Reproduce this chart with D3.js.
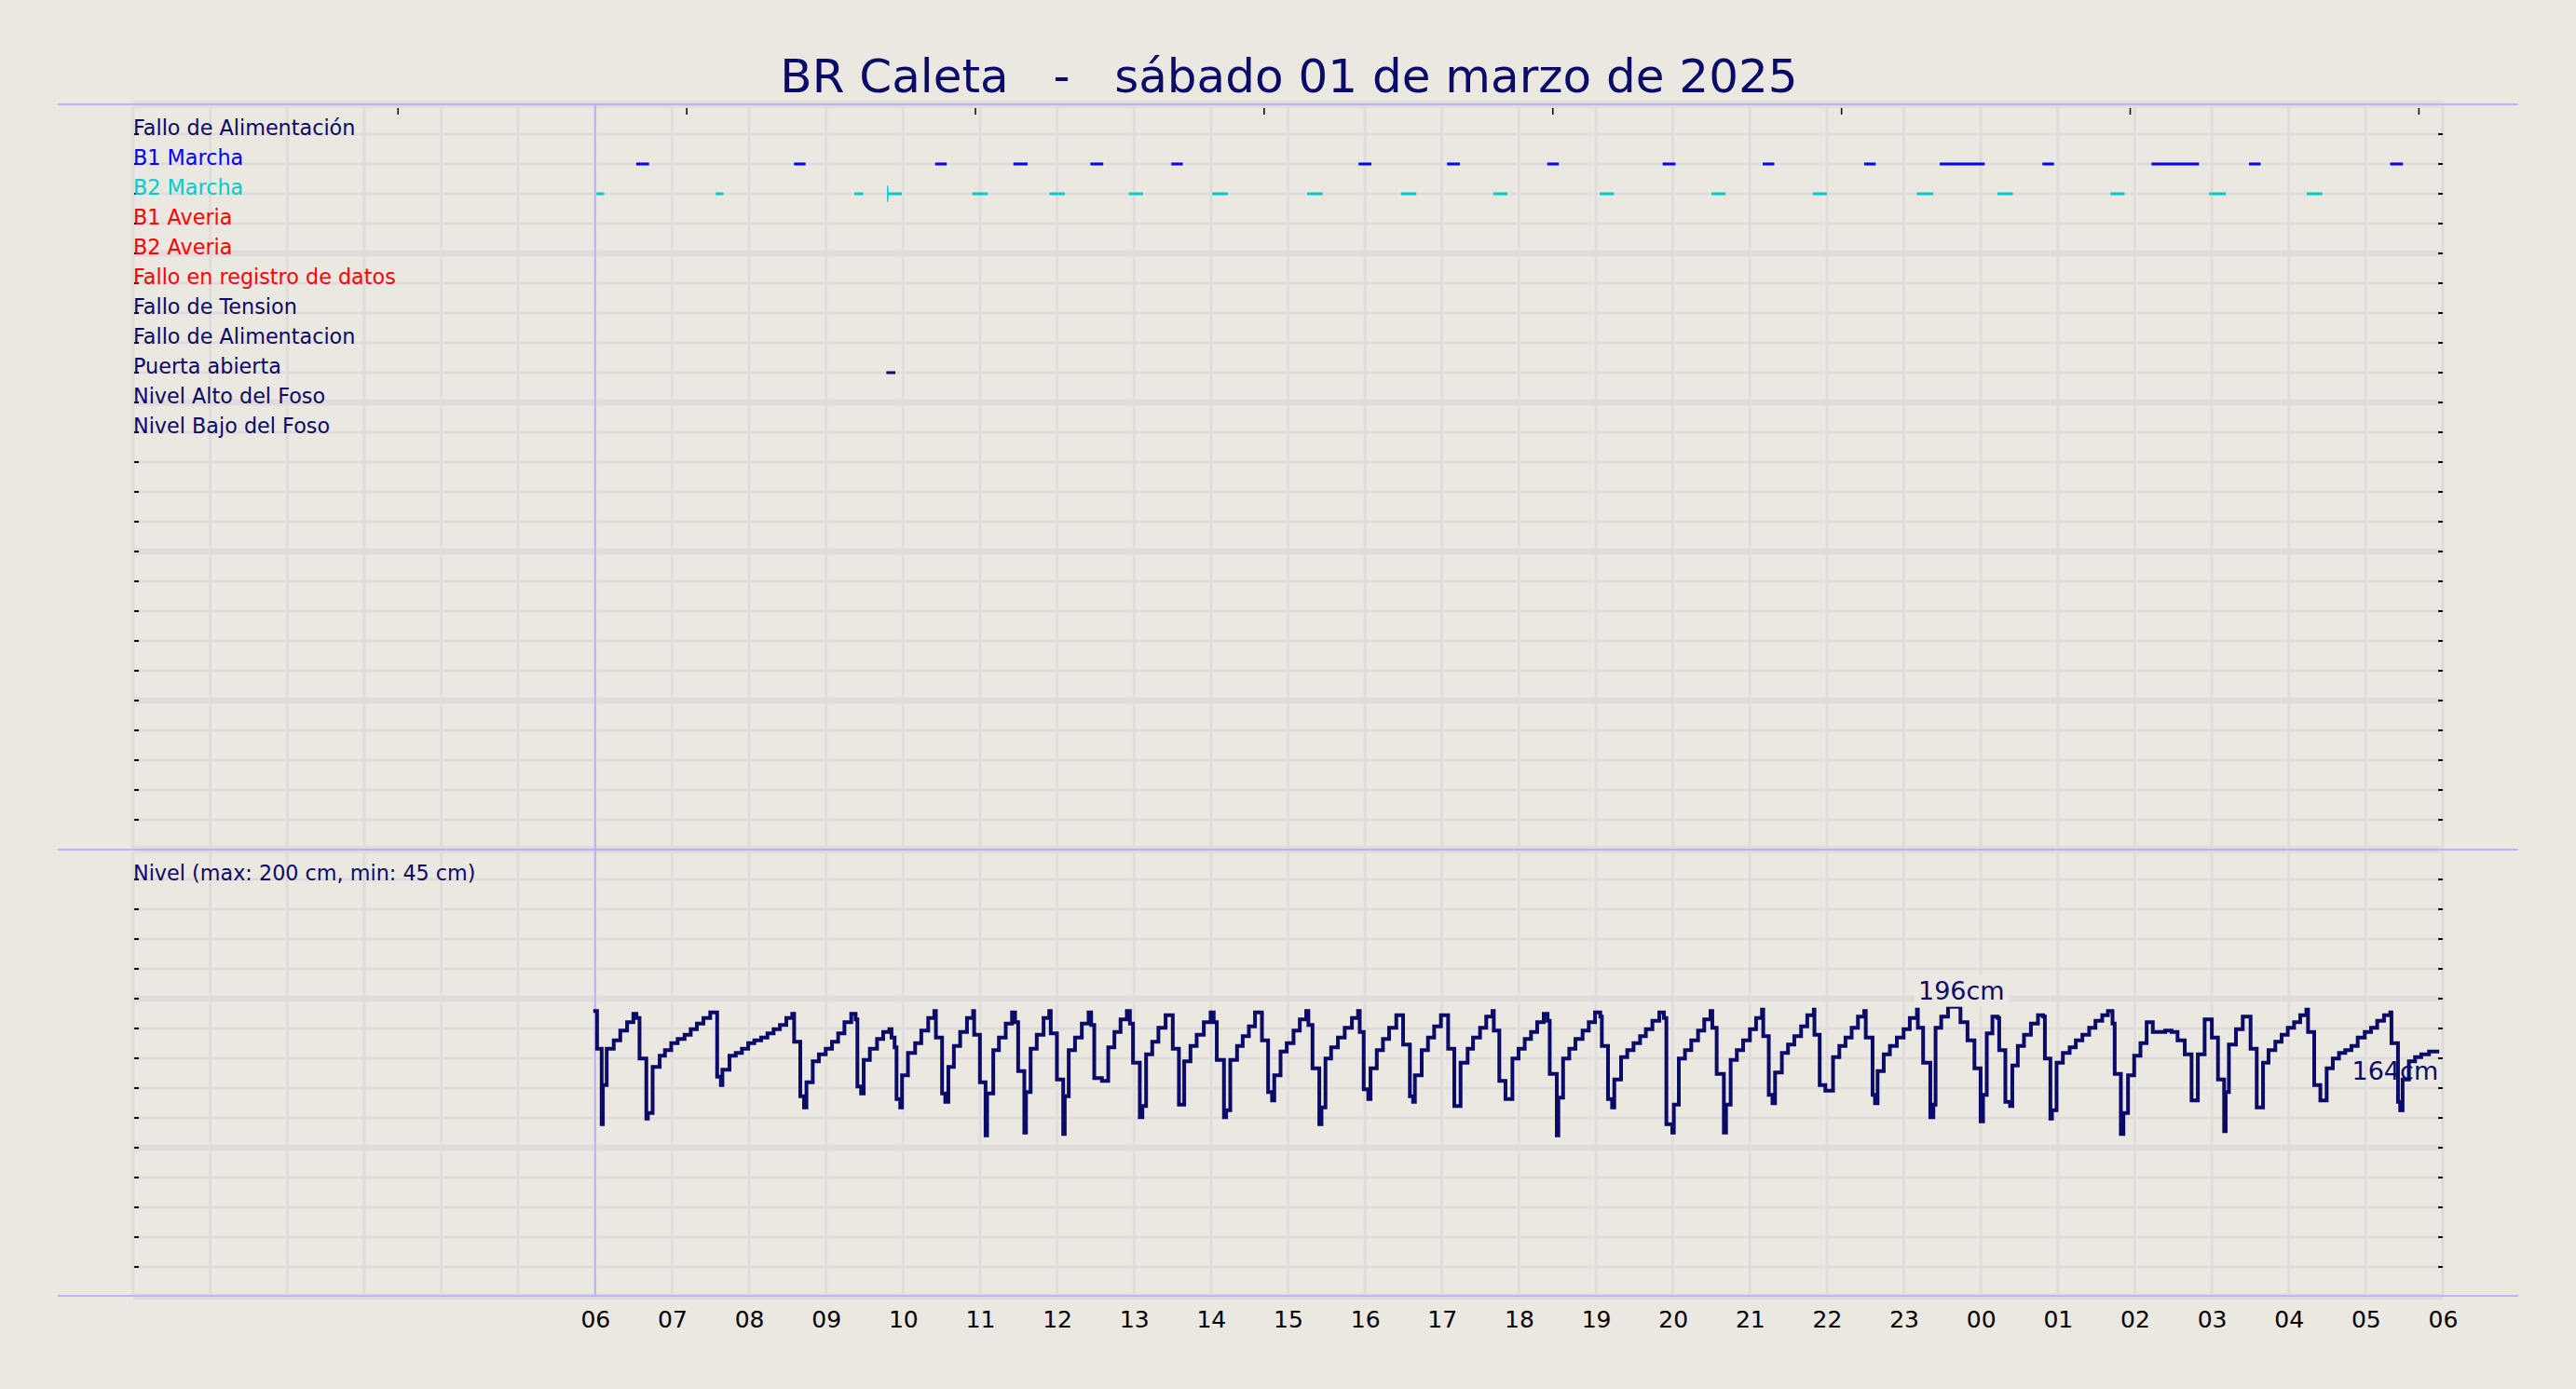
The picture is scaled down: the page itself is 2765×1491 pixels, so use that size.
<!DOCTYPE html>
<html><head><meta charset="utf-8">
<script src="https://cdn.jsdelivr.net/npm/d3@7"></script>
<style>
html,body{margin:0;padding:0;background:#ebe7e1;}
svg{display:block;}
text{font-family:"DejaVu Sans",sans-serif;}
</style></head><body>
<svg id="chart" width="2765" height="1491"></svg>
<script>
// ---------------- DATA ----------------
const titleText = "BR Caleta   -   sábado 01 de marzo de 2025";
const rowLabels = ["Fallo de Alimentación","B1 Marcha","B2 Marcha","B1 Averia","B2 Averia",
  "Fallo en registro de datos","Fallo de Tension","Fallo de Alimentacion","Puerta abierta",
  "Nivel Alto del Foso","Nivel Bajo del Foso"];
const rowColors = ["#0a0a68","#0000ff","#00cccc","#ff0000","#ff0000","#ff0000",
  "#0a0a68","#0a0a68","#0a0a68","#0a0a68","#0a0a68"];
const levelLabel = "Nivel (max: 200 cm, min: 45 cm)";

const b1Start = ["06:32","08:35","10:25","11:26","12:26","13:29","15:55","17:04","18:22","19:52","21:10","22:29","23:28","00:48","02:13","03:29","05:19"];
const b1End   = ["06:42","08:44","10:34","11:37","12:36","13:38","16:05","17:14","18:31","20:02","21:19","22:38","00:03","00:57","02:50","03:38","05:29"];
const b2Start = ["06:01","07:34","09:22","09:48","10:54","11:54","12:56","14:01","15:15","16:28","17:40","19:03","20:30","21:49","23:10","00:13","01:41","02:58","04:14"];
const b2End   = ["06:07","07:40","09:29","09:59","11:06","12:06","13:07","14:13","15:27","16:40","17:51","19:14","20:41","22:00","23:23","00:25","01:52","03:11","04:26"];
const b2Marks = ["09:48"];
const doorStart = ["09:47"];
const doorEnd   = ["09:54"];

const xTickLabels = ["06","07","08","09","10","11","12","13","14","15","16","17","18","19","20","21","22","23","00","01","02","03","04","05","06"];
const topTickHours = [3.44, 7.19, 10.94, 14.69, 18.44, 22.19, 25.94, 29.69];

// level: minutes after 06:00, value in cm (step after)
const levelMinutes = [0.0,1.5,5.1,6.0,9.0,14.5,19.6,24.9,29.8,32.2,34.6,39.9,41.1,44.8,50.3,54.4,59.3,64.3,69.7,74.5,79.3,84.4,89.7,95.1,98.0,99.2,104.7,109.6,114.4,119.3,124.1,129.4,134.3,139.1,144.0,149.0,153.6,155.1,159.9,162.8,164.7,169.6,174.4,179.7,184.6,189.4,194.3,199.6,203.0,204.4,207.3,209.3,214.1,219.7,224.5,229.3,231.0,233.4,234.9,237.8,239.2,243.8,249.4,254.2,259.6,264.4,265.6,270.4,272.9,275.3,279.6,284.5,289.8,294.6,295.4,299.9,304.3,305.5,310.3,314.7,320.0,324.9,327.3,329.7,334.5,335.8,339.4,344.2,349.5,353.9,355.1,359.9,364.8,366.0,369.1,374.0,379.3,384.6,386.6,389.0,395.0,399.9,404.7,409.5,414.4,416.8,419.2,424.5,426.5,429.4,434.2,439.0,444.6,450.2,455.0,459.1,464.0,468.8,474.4,479.7,482.1,484.5,490.1,491.8,495.0,500.3,504.7,509.5,514.3,519.7,524.5,527.6,529.3,534.2,539.0,544.3,549.2,554.2,555.9,559.1,564.4,566.1,569.2,573.6,578.9,584.2,589.8,594.6,595.9,599.0,602.6,604.3,609.2,614.0,618.8,624.4,629.7,635.0,637.5,638.9,644.2,649.1,653.9,659.2,664.8,669.6,674.5,680.0,684.2,689.7,694.5,699.4,700.4,704.7,709.5,714.9,719.7,724.5,729.4,734.2,739.3,742.3,744.0,749.5,750.7,754.4,759.2,764.0,769.6,774.4,779.3,783.4,784.6,789.4,792.6,794.3,799.6,804.4,809.3,814.4,818.9,824.0,829.4,833.0,834.9,839.5,840.7,844.6,849.4,854.3,859.6,864.4,869.3,870.7,874.1,879.7,881.4,885.0,889.8,894.7,900.0,904.8,909.4,910.4,914.7,917.6,919.6,924.9,929.7,934.6,939.9,944.7,949.8,950.3,954.4,958.8,964.8,969.7,974.5,979.3,984.2,989.1,990.3,995.6,997.5,999.5,1004.3,1009.1,1014.5,1019.8,1024.6,1030.2,1030.9,1035.0,1040.6,1043.0,1044.7,1049.1,1054.4,1064.1,1069.6,1075.0,1079.8,1081.7,1084.6,1089.0,1093.1,1094.3,1099.1,1102.8,1104.5,1108.8,1113.6,1119.0,1124.5,1128.6,1129.9,1134.2,1135.4,1139.0,1143.9,1149.2,1154.0,1159.1,1164.4,1169.3,1174.6,1179.0,1182.6,1184.3,1189.1,1191.1,1194.7,1199.5,1204.4,1209.2,1214.0,1223.7,1228.6,1233.3,1238.9,1244.2,1249.1,1254.4,1260.0,1264.8,1269.6,1270.8,1273.3,1278.8,1284.1,1290.2,1295.0,1299.9,1304.2,1309.5,1314.4,1319.2,1324.1,1328.9,1333.7,1335.0,1339.8,1344.6,1349.5,1354.3,1359.1,1364.0,1368.8,1373.7,1379.2,1384.1,1388.9,1394.2,1399.1,1400.0,1405.1,1406.8,1408.7,1413.6,1418.4,1423.2,1429.3,1435.8];
const levelCm = [193,166,112,140,166,172,179,185,191,188,159,116,120,153,161,165,170,173,176,180,184,188,192,146,140,151,161,163,166,170,172,174,177,180,183,188,191,171,132,124,142,157,162,166,171,177,185,191,187,139,134,158,166,173,178,180,174,167,130,124,147,163,170,179,188,193,174,134,128,153,168,178,188,193,176,142,104,134,165,174,184,192,185,150,106,135,166,176,188,193,177,144,105,132,165,174,184,192,183,145,143,167,178,187,193,184,156,117,125,162,171,181,190,166,126,157,168,176,185,192,185,158,117,122,158,168,175,182,192,172,135,129,147,164,170,179,187,193,183,152,112,124,159,167,174,181,188,193,178,137,130,152,165,173,181,190,169,132,128,147,165,174,182,190,166,125,156,166,174,181,189,193,179,143,130,159,166,173,178,185,191,186,148,104,131,159,166,173,179,185,192,189,168,130,124,144,160,165,170,175,180,186,192,188,112,106,126,159,165,172,179,187,193,181,148,106,126,158,165,172,180,188,194,175,133,127,149,163,169,175,182,190,194,176,140,136,160,168,174,181,189,193,174,133,127,150,162,168,174,180,188,194,181,156,117,126,181,189,196,185,172,152,114,133,177,189,188,165,128,125,154,168,176,184,190,189,159,116,122,156,163,167,172,176,181,186,190,193,184,148,105,120,147,161,170,185,178,179,178,172,162,129,162,187,174,144,107,135,169,180,189,166,124,156,165,171,176,181,185,190,194,178,140,129,152,159,163,165,168,174,178,181,186,190,192,170,128,122,144,157,160,162,164,164];
const maxLabel = "196cm";
const lastLabel = "164cm";

// ---------------- LAYOUT ----------------
const W = 2765, H = 1491;
const plotL = 143, plotR = 2622, plotT = 112, rowH = 32;
const topRows = 25, botRows = 15;
const midY = plotT + topRows * rowH;      // 912
const plotB = midY + botRows * rowH;      // 1392
const sepL = 62, sepR = 2703;
const bg = "#ebe7e1", gridC = "#e1dcdb", sepC = "#b4b4ff", navy = "#0a0a68";
const labelSize = 22.3;

const day0 = new Date(2025, 2, 1, 0, 0);
const hoursToDate = h => new Date(day0.getTime() + h * 3600000);
const x = d3.scaleTime().domain([hoursToDate(0), hoursToDate(30)]).range([plotL, plotR]);
const parseClock = s => { const [h, m] = s.split(":").map(Number); return hoursToDate((h < 6 ? h + 24 : h) + m / 60); };
const levelDate = m => hoursToDate(6 + m / 60);

const yRow = d3.scaleLinear().domain([0, topRows]).range([plotT, midY]);
const yRowB = d3.scaleLinear().domain([0, botRows]).range([midY, plotB]);
const yLevel = d3.scaleLinear().domain([0, 200]).range([1374.7, 1074.7]);

const svg = d3.select("#chart");
svg.append("rect").attr("width", W).attr("height", H).attr("fill", bg);

// grid
const grid = svg.append("g");
d3.range(0, 31).forEach(h => {
  grid.append("line").attr("x1", x(hoursToDate(h))).attr("x2", x(hoursToDate(h)))
    .attr("y1", plotT).attr("y2", plotB).attr("stroke", gridC).attr("stroke-width", 3);
});
d3.range(0, topRows + 1).forEach(k => {
  grid.append("line").attr("x1", plotL).attr("x2", plotR).attr("y1", yRow(k)).attr("y2", yRow(k))
    .attr("stroke", gridC).attr("stroke-width", k % 5 === 0 ? 7 : 3);
});
d3.range(0, botRows + 1).forEach(k => {
  grid.append("line").attr("x1", plotL).attr("x2", plotR).attr("y1", yRowB(k)).attr("y2", yRowB(k))
    .attr("stroke", gridC).attr("stroke-width", k % 5 === 0 ? 7 : 3);
});

// separators
[plotT, midY, plotB - 1].forEach(y => {
  svg.append("line").attr("x1", sepL).attr("x2", sepR).attr("y1", y).attr("y2", y)
    .attr("stroke", sepC).attr("stroke-width", 2);
});
svg.append("line").attr("x1", x(hoursToDate(6))).attr("x2", x(hoursToDate(6)))
  .attr("y1", plotT).attr("y2", plotB - 1).attr("stroke", sepC).attr("stroke-width", 2);

// ticks left/right
const tickG = svg.append("g").attr("stroke", "#000").attr("stroke-width", 2);
const tickYs = d3.range(1, topRows).map(k => yRow(k)).concat(d3.range(1, botRows).map(k => yRowB(k)));
tickYs.forEach(y => {
  tickG.append("line").attr("x1", plotL + 1).attr("x2", plotL + 6).attr("y1", y).attr("y2", y);
  tickG.append("line").attr("x1", plotR - 5).attr("x2", plotR).attr("y1", y).attr("y2", y);
});
topTickHours.forEach(h => {
  svg.append("line").attr("x1", x(hoursToDate(h))).attr("x2", x(hoursToDate(h)))
    .attr("y1", plotT + 4).attr("y2", plotT + 11).attr("stroke", "#000").attr("stroke-width", 1.5);
});

// event bars
function bars(starts, ends, row, color) {
  svg.append("g").selectAll("line").data(starts).join("line")
    .attr("x1", (d) => x(parseClock(d)))
    .attr("x2", (d, i) => x(parseClock(ends[i])))
    .attr("y1", yRow(row + 1)).attr("y2", yRow(row + 1))
    .attr("stroke", color).attr("stroke-width", 3);
}
bars(b1Start, b1End, 1, rowColors[1]);
bars(b2Start, b2End, 2, rowColors[2]);
bars(doorStart, doorEnd, 8, navy);
svg.append("g").selectAll("line").data(b2Marks).join("line")
  .attr("x1", d => x(parseClock(d))).attr("x2", d => x(parseClock(d)))
  .attr("y1", yRow(3) - 8.5).attr("y2", yRow(3) + 8.5)
  .attr("stroke", rowColors[2]).attr("stroke-width", 1.5);

// row labels
svg.append("g").selectAll("text").data(rowLabels).join("text")
  .attr("x", plotL).attr("y", (d, i) => yRow(i + 1) + 1)
  .attr("font-size", labelSize).attr("fill", (d, i) => rowColors[i]).text(d => d);
svg.append("text").attr("x", plotL).attr("y", yRowB(1) + 1).attr("font-size", labelSize)
  .attr("fill", navy).text(levelLabel);

// level line
const levelData = levelMinutes.map((m, i) => ({ t: levelDate(m), v: levelCm[i] }));
svg.append("path").datum(levelData)
  .attr("d", d3.line().x(d => x(d.t)).y(d => yLevel(d.v)).curve(d3.curveStepAfter))
  .attr("fill", "none").attr("stroke", navy).attr("stroke-width", 4)
  .attr("stroke-linecap", "square").attr("stroke-linejoin", "miter");

// max label with box
const maxIdx = d3.maxIndex(levelData, d => d.v);
const maxX = x(levelData[maxIdx + 1].t) + 1;
const maxT = svg.append("text").attr("x", maxX).attr("y", yLevel(levelData[maxIdx].v) - 8)
  .attr("text-anchor", "middle").attr("font-size", 27).attr("fill", navy).text(maxLabel);
const bb = maxT.node().getBBox();
svg.insert("rect", function () { return maxT.node(); })
  .attr("x", bb.x - 4).attr("y", bb.y - 2).attr("width", bb.width + 8).attr("height", bb.height + 4)
  .attr("fill", bg);
const last = levelData[levelData.length - 1];
svg.append("text").attr("x", x(last.t) + 1).attr("y", yLevel(last.v) + 30)
  .attr("text-anchor", "end").attr("font-size", 27).attr("fill", navy).text(lastLabel);

// x axis
const xTicks = xTickLabels.map((d, i) => hoursToDate(6 + i));
const axis = svg.append("g").attr("transform", `translate(0,${plotB - 1})`)
  .call(d3.axisBottom(x).tickValues(xTicks).tickFormat((d, i) => xTickLabels[i]).tickSize(0).tickPadding(16));
axis.select(".domain").remove();
axis.selectAll("text").attr("font-size", 25).attr("fill", "#000").attr("font-family", "DejaVu Sans");

// title
svg.append("text").attr("x", W / 2 + 1).attr("y", 99).attr("text-anchor", "middle")
  .attr("font-size", 50).attr("fill", navy).style("white-space", "pre").attr("xml:space", "preserve")
  .text(titleText);
</script>
</body></html>
